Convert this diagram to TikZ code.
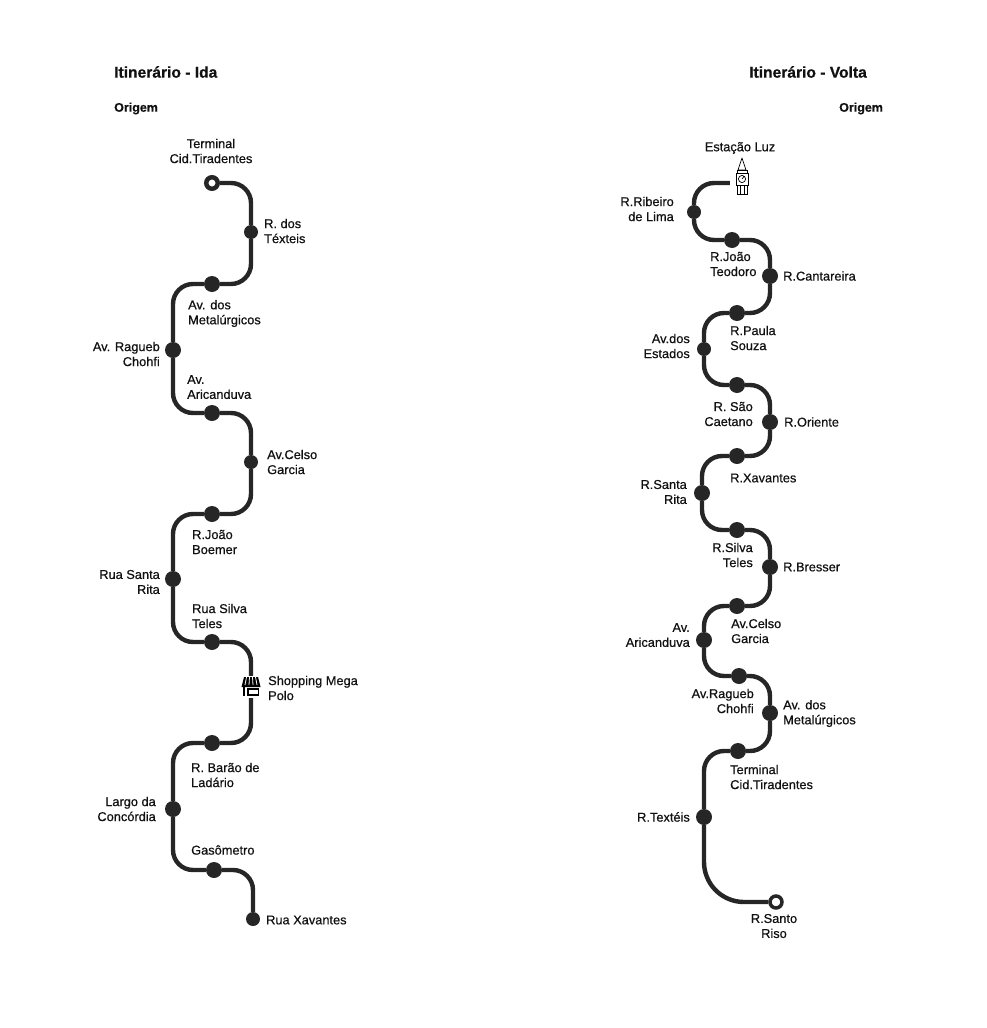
\documentclass[tikz,border=0pt]{standalone}
\usepackage{fontspec}
\setmainfont{Liberation Sans}[FakeBold=0.6]
\usetikzlibrary{positioning,calc}
\definecolor{cLine}{HTML}{262626}
\definecolor{cInk}{HTML}{111111}
\tikzset{
  stbig/.style={circle,fill=cLine,minimum size=16pt,inner sep=0pt},
  stsmall/.style={circle,fill=cLine,minimum size=14pt,inner sep=0pt},
  stend/.style={circle,draw=cLine,line width=3.5pt,fill=white,minimum size=12pt,inner sep=0pt},
  stopen/.style={stend,line width=4.5pt,minimum size=11.5pt},
  route/.style={line width=4.4pt,cLine,rounded corners=20pt},
  lbl/.style={font=\fontsize{12.8}{15}\selectfont,text=cInk,inner sep=0pt},
  lblw/.style={lbl,anchor=west,align=left},
  lble/.style={lbl,anchor=east,align=right},
  lblc/.style={lbl,align=center},
  ttl/.style={font=\fontsize{15.6}{17}\selectfont\bfseries,text=cInk,inner sep=0pt,anchor=west},
  org/.style={font=\fontsize{12.5}{15}\selectfont\bfseries,text=cInk,inner sep=0pt,anchor=west},
  icon/.style={inner sep=0pt,minimum width=24pt,minimum height=22pt},
  shopicon/.pic={
    \fill[black] (-7,-10) -- (7,-10) -- (9.5,0) -- (-9.5,0) -- cycle;
    \foreach \s in {-6,-2,2,6} \draw[white,line width=0.8pt] (\s*0.75,-10) -- (\s,-2);
    \draw[black,line width=2pt] (-7,0) -- (-7,9);
    \draw[black,line width=1.8pt] (-3,2) rectangle (7.5,8);
  },
  towericon/.pic={
    \draw[black,line width=0.7pt,line join=round] (0,-18) -- (-4,-6) -- (4,-6) -- cycle;
    \draw[black,line width=0.7pt] (-5,-6) rectangle (5,-3) (-6,-3) rectangle (6,9) (-5,9) rectangle (5,18);
    \draw[black,line width=0.7pt] (0,3) circle (3.6pt) (0,3) -- (1.8,0.8);
    \foreach \s in {-2,2} \draw[black,line width=0.7pt] (\s,9) -- (\s,18);
  },
}
\begin{document}
\begin{tikzpicture}[x=1pt,y=-1pt]
  \useasboundingbox (0,0) rectangle (987,1028);
  % ida
  \node[ttl] (tida) at (114,72) {Itinerário - Ida};
  \node[org] (oida) at (114,108.5) {Origem};
  \node[stopen] (a0) at (212,183) {};
  \node[stsmall] (a1) at (251,232) {};
  \node[stbig] (a2) at (212,284) {};
  \node[stbig] (a3) at (173,350) {};
  \node[stbig] (a4) at (212,413) {};
  \node[stsmall] (a5) at (251,462) {};
  \node[stbig] (a6) at (212,514) {};
  \node[stbig] (a7) at (173,579) {};
  \node[stbig] (a8) at (212,642) {};
  \node[icon] (a9) at (251,687) {};
  \node[stbig] (a10) at (212,743) {};
  \node[stbig] (a11) at (173,809) {};
  \node[stbig] (a12) at (214,870) {};
  \node[stsmall] (a13) at (253,919) {};
  \foreach \a/\b in {a0/a1,a2/a3,a4/a5,a6/a7,a8/a9,a10/a11,a12/a13} \draw[route] (\a) -| (\b);
  \foreach \a/\b in {a1/a2,a3/a4,a5/a6,a7/a8,a9/a10,a11/a12} \draw[route] (\a) |- (\b);
  \pic at (251,687) {shopicon};
  \node[lblc] (la0) at (211,151) {Terminal\\Cid.Tiradentes};
  \node[lblw] (la1) at (264,231) {R. dos\\Téxteis};
  \node[lblw] (la2) at (188,313.5) {Av. dos\\Metalúrgicos};
  \node[lble] (la3) at (160,354) {Av. Ragueb\\Chohfi};
  \node[lblw] (la4) at (187,387) {Av.\\Aricanduva};
  \node[lblw] (la5) at (267,462) {Av.Celso\\Garcia};
  \node[lblw] (la6) at (192,542) {R.João\\Boemer};
  \node[lble] (la7) at (160,582) {Rua Santa\\Rita};
  \node[lblw] (la8) at (192,616) {Rua Silva\\Teles};
  \node[lblw] (la9) at (268,688) {Shopping Mega\\Polo};
  \node[lblw] (la10) at (191,775) {R. Barão de\\Ladário};
  \node[lble] (la11) at (156,809) {Largo da\\Concórdia};
  \node[lblw] (la12) at (191,850) {Gasômetro};
  \node[lblw] (la13) at (266,920) {Rua Xavantes};
  % volta
  \node[ttl] (tvolta) at (749,72) {Itinerário - Volta};
  \node[org] (ovolta) at (839,108.5) {Origem};
  \node[icon] (b0) at (742,183) {};
  \node[stsmall] (b1) at (694,212) {};
  \node[stbig] (b2) at (732,240) {};
  \node[stbig] (b3) at (770,276) {};
  \node[stbig] (b4) at (737,313) {};
  \node[stsmall] (b5) at (704,349) {};
  \node[stbig] (b6) at (737,385) {};
  \node[stbig] (b7) at (770,422) {};
  \node[stbig] (b8) at (737,456) {};
  \node[stbig] (b9) at (702,493) {};
  \node[stbig] (b10) at (737,530) {};
  \node[stbig] (b11) at (770,567) {};
  \node[stbig] (b12) at (737,606) {};
  \node[stbig] (b13) at (704,640) {};
  \node[stbig] (b14) at (739,676) {};
  \node[stbig] (b15) at (770,713) {};
  \node[stbig] (b16) at (738,751) {};
  \node[stbig] (b17) at (704,817) {};
  \node[stend] (b18) at (776,902) {};
  \foreach \a/\b in {b0/b1,b2/b3,b4/b5,b6/b7,b8/b9,b10/b11,b12/b13,b14/b15,b16/b17} \draw[route] (\a) -| (\b);
  \foreach \a/\b in {b1/b2,b3/b4,b5/b6,b7/b8,b9/b10,b11/b12,b13/b14,b15/b16} \draw[route] (\a) |- (\b);
  \draw[route,rounded corners=40pt] (b17) |- (b18);
  \pic at (742,176) {towericon};
  \node[lblc] (lb0) at (740,148) {Estação Luz};
  \node[lble] (lb1) at (674,209) {R.Ribeiro\\de Lima};
  \node[lblw] (lb2) at (710,264) {R.João\\Teodoro};
  \node[lblw] (lb3) at (783,276) {R.Cantareira};
  \node[lblw] (lb4) at (730,338) {R.Paula\\Souza};
  \node[lble] (lb5) at (690,346) {Av.dos\\Estados};
  \node[lble] (lb6) at (753,414) {R. São\\Caetano};
  \node[lblw] (lb7) at (784,422) {R.Oriente};
  \node[lblw] (lb8) at (730,478) {R.Xavantes};
  \node[lble] (lb9) at (687,492) {R.Santa\\Rita};
  \node[lble] (lb10) at (753,555) {R.Silva\\Teles};
  \node[lblw] (lb11) at (783,567) {R.Bresser};
  \node[lblw] (lb12) at (731,631) {Av.Celso\\Garcia};
  \node[lble] (lb13) at (690,635) {Av.\\Aricanduva};
  \node[lble] (lb14) at (754,701) {Av.Ragueb\\Chohfi};
  \node[lblw] (lb15) at (783,713.5) {Av. dos\\Metalúrgicos};
  \node[lblw] (lb16) at (730,777) {Terminal\\Cid.Tiradentes};
  \node[lble] (lb17) at (690,817) {R.Textéis};
  \node[lblc] (lb18) at (774,926) {R.Santo\\Riso};
\end{tikzpicture}
\end{document}
